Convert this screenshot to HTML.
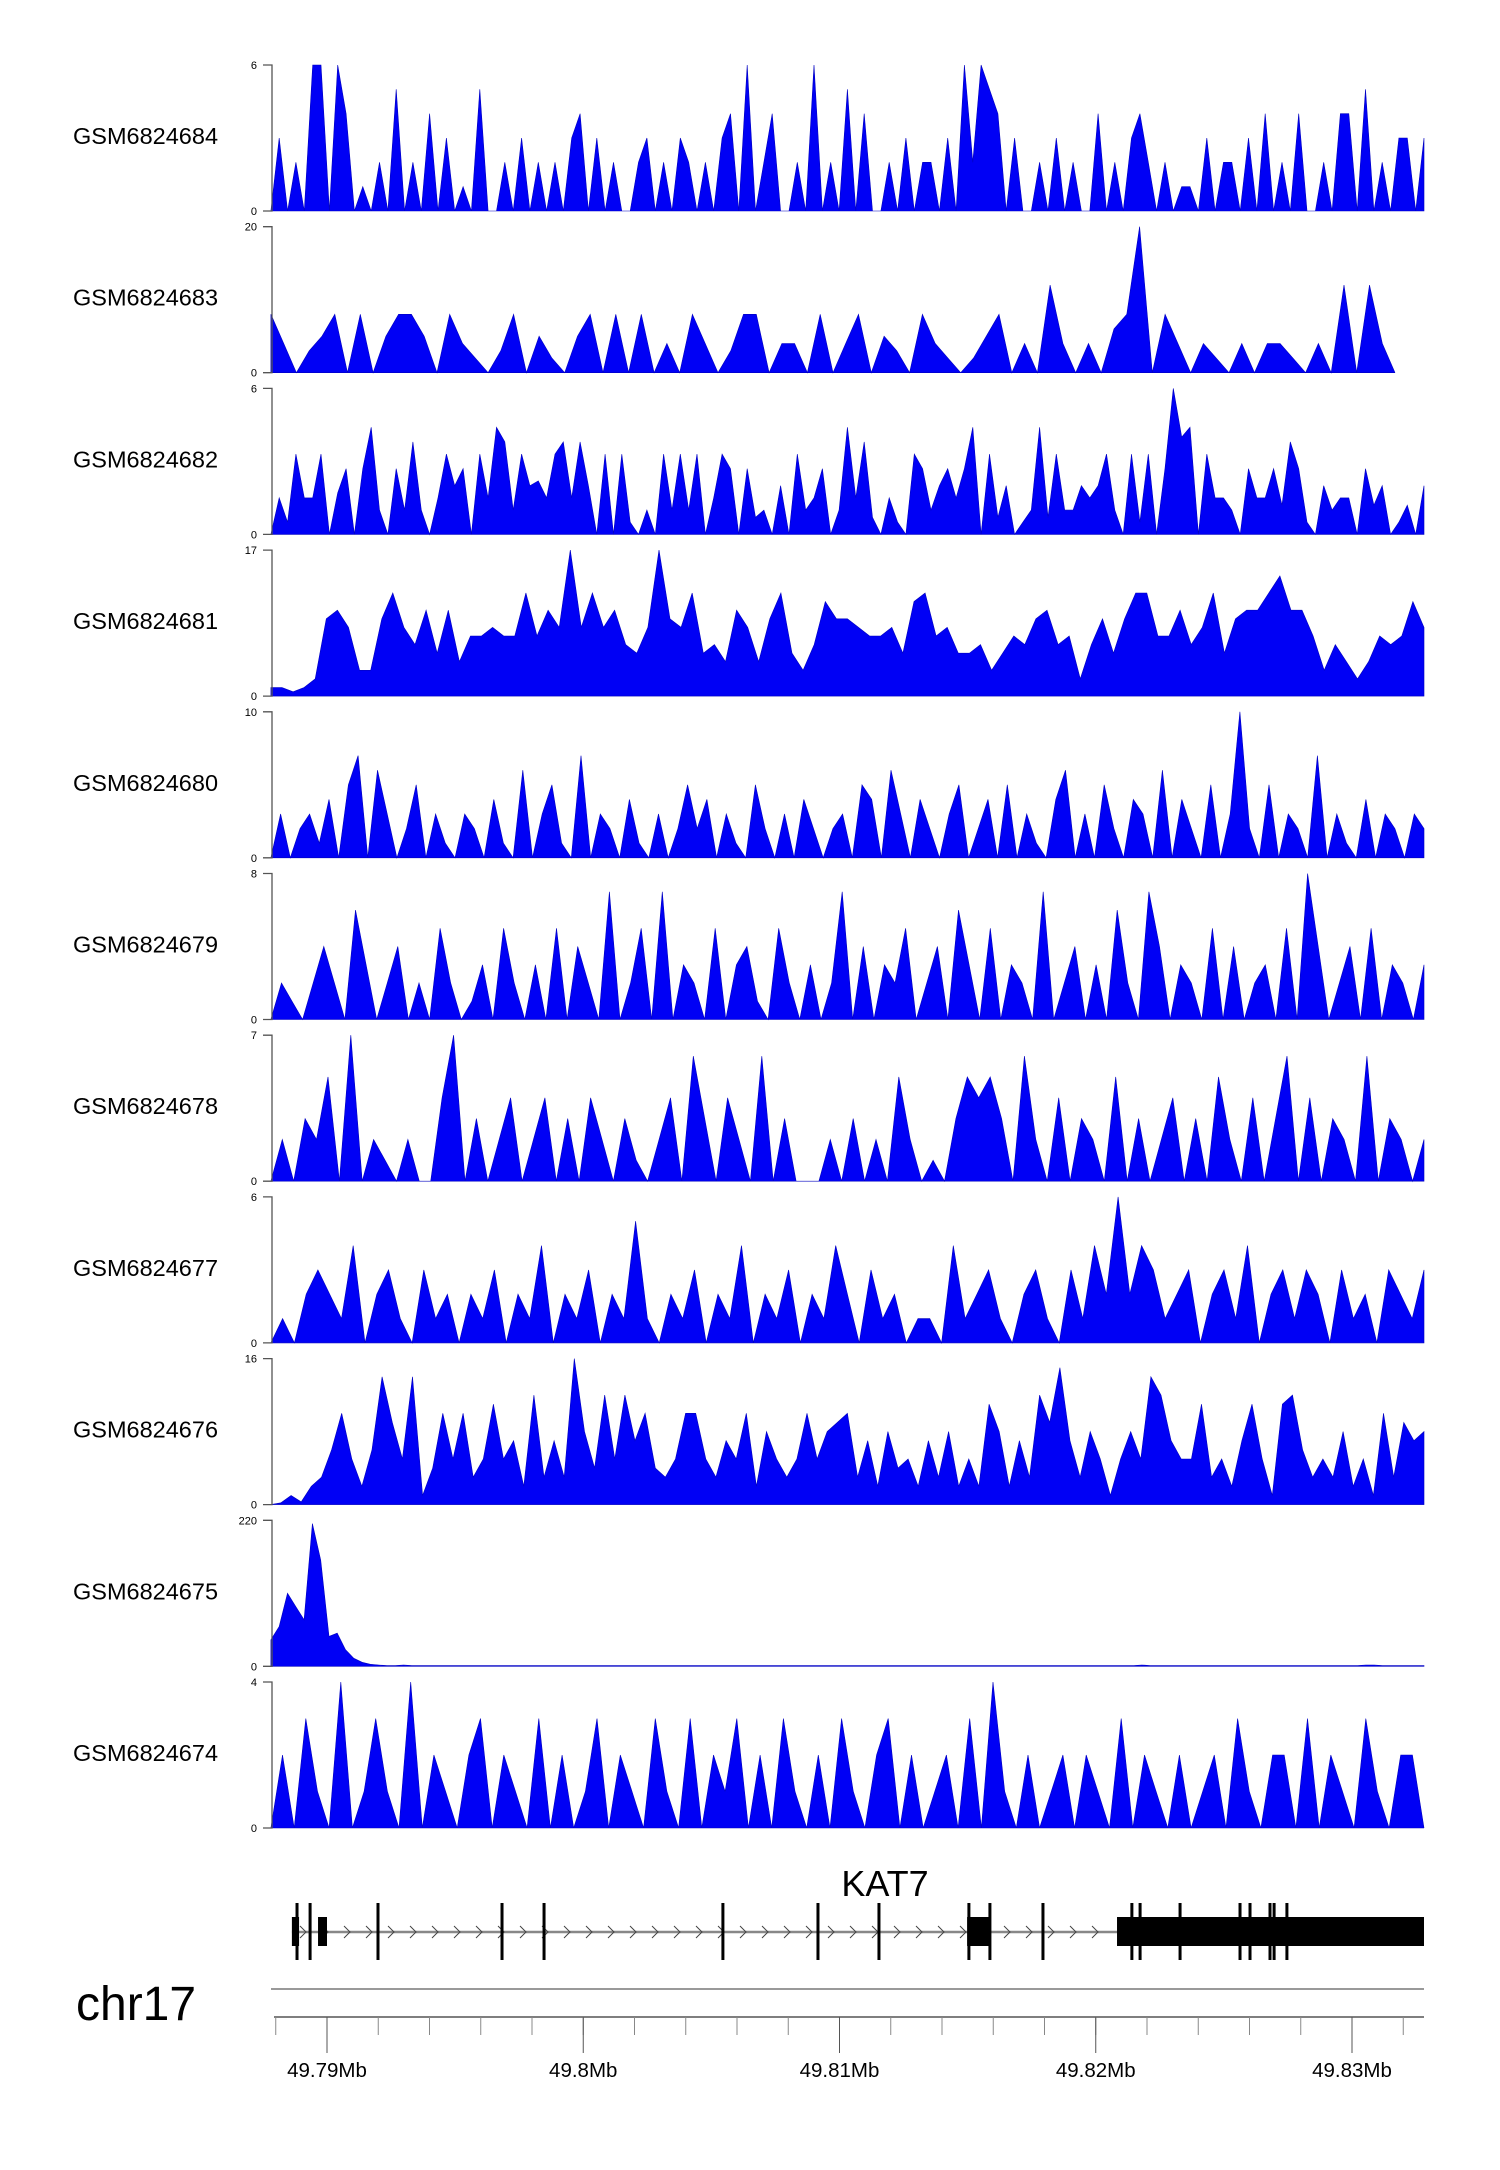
<!DOCTYPE html>
<html><head><meta charset="utf-8"><style>
html,body{margin:0;padding:0;background:#fff;}
svg{display:block;font-family:"Liberation Sans",sans-serif;}
</style></head><body>
<svg id="chart" width="1500" height="2170" viewBox="0 0 1500 2170" xmlns="http://www.w3.org/2000/svg"></svg>
<script>
const sampleNames = ["GSM6824684","GSM6824683","GSM6824682","GSM6824681","GSM6824680","GSM6824679","GSM6824678","GSM6824677","GSM6824676","GSM6824675","GSM6824674"];
const yMax = [6,20,6,17,10,8,7,6,16,220,4];
const trackEndMb = [49.83281,49.83168,49.83281,49.83281,49.83281,49.83281,49.83281,49.83281,49.83281,49.83281,49.83281];
const t1 = [0,3,0,2,0,6,6,0,6,4,0,1,0,2,0,5,0,2,0,4,0,3,0,1,0,5,0,0,2,0,3,0,2,0,2,0,3,4,0,3,0,2,0,0,2,3,0,2,0,3,2,0,2,0,3,4,0,6,0,2,4,0,0,2,0,6,0,2,0,5,0,4,0,0,2,0,3,0,2,2,0,3,0,6,2,6,5,4,0,3,0,0,2,0,3,0,2,0,0,4,0,2,0,3,4,2,0,2,0,1,1,0,3,0,2,2,0,3,0,4,0,2,0,4,0,0,2,0,4,4,0,5,0,2,0,3,3,0,3];
const t2 = [8,4,0,3,5,8,0,8,0,5,8,8,5,0,8,4,2,0,3,8,0,5,2,0,5,8,0,8,0,8,0,4,0,8,4,0,3,8,8,0,4,4,0,8,0,4,8,0,5,3,0,8,4,2,0,2,5,8,0,4,0,12,4,0,4,0,6,8,20,0,8,4,0,4,2,0,4,0,4,4,2,0,4,0,12,0,12,4,0];
const t3 = [0,1.5,0.5,3.3,1.5,1.5,3.3,0,1.7,2.7,0,2.7,4.4,1,0,2.7,1,3.8,1,0,1.5,3.3,2,2.7,0,3.3,1.5,4.4,3.8,1,3.3,2,2.2,1.5,3.3,3.8,1.5,3.8,2,0,3.3,0,3.3,0.5,0,1,0,3.3,1,3.3,1,3.3,0,1.5,3.3,2.7,0,2.7,0.7,1,0,2,0,3.3,1,1.5,2.7,0,1,4.4,1.5,3.8,0.7,0,1.5,0.5,0,3.3,2.7,1,2,2.7,1.5,2.7,4.4,0,3.3,0.7,2,0,0.5,1,4.4,0.7,3.3,1,1,2,1.5,2,3.3,1,0,3.3,0.5,3.3,0,2.7,6,4,4.4,0,3.3,1.5,1.5,1,0,2.7,1.5,1.5,2.7,1.2,3.8,2.7,0.5,0,2,1,1.5,1.5,0,2.7,1.2,2,0,0.5,1.2,0,2];
const t4 = [1,1,0.5,1,2,9,10,8,3,3,9,12,8,6,10,5,10,4,7,7,8,7,7,12,7,10,8,17,8,12,8,10,6,5,8,17,9,8,12,5,6,4,10,8,4,9,12,5,3,6,11,9,9,8,7,7,8,5,11,12,7,8,5,5,6,3,5,7,6,9,10,6,7,2,6,9,5,9,12,12,7,7,10,6,8,12,5,9,10,10,12,14,10,10,7,3,6,4,2,4,7,6,7,11,8];
const t5 = [0,3,0,2,3,1,4,0,5,7,0,6,3,0,2,5,0,3,1,0,3,2,0,4,1,0,6,0,3,5,1,0,7,0,3,2,0,4,1,0,3,0,2,5,2,4,0,3,1,0,5,2,0,3,0,4,2,0,2,3,0,5,4,0,6,3,0,4,2,0,3,5,0,2,4,0,5,0,3,1,0,4,6,0,3,0,5,2,0,4,3,0,6,0,4,2,0,5,0,3,10,2,0,5,0,3,2,0,7,0,3,1,0,4,0,3,2,0,3,2];
const t6 = [0,2,1,0,2,4,2,0,6,3,0,2,4,0,2,0,5,2,0,1,3,0,5,2,0,3,0,5,0,4,2,0,7,0,2,5,0,7,0,3,2,0,5,0,3,4,1,0,5,2,0,3,0,2,7,0,4,0,3,2,5,0,2,4,0,6,3,0,5,0,3,2,0,7,0,2,4,0,3,0,6,2,0,7,4,0,3,2,0,5,0,4,0,2,3,0,5,0,8,4,0,2,4,0,5,0,3,2,0,3];
const t7 = [0,2,0,3,2,5,0,7,0,2,1,0,2,0,0,4,7,0,3,0,2,4,0,2,4,0,3,0,4,2,0,3,1,0,2,4,0,6,3,0,4,2,0,6,0,3,0,0,0,2,0,3,0,2,0,5,2,0,1,0,3,5,4,5,3,0,6,2,0,4,0,3,2,0,5,0,3,0,2,4,0,3,0,5,2,0,4,0,3,6,0,4,0,3,2,0,6,0,3,2,0,2];
const t8 = [0,1,0,2,3,2,1,4,0,2,3,1,0,3,1,2,0,2,1,3,0,2,1,4,0,2,1,3,0,2,1,5,1,0,2,1,3,0,2,1,4,0,2,1,3,0,2,1,4,2,0,3,1,2,0,1,1,0,4,1,2,3,1,0,2,3,1,0,3,1,4,2,6,2,4,3,1,2,3,0,2,3,1,4,0,2,3,1,3,2,0,3,1,2,0,3,2,1,3];
const t9 = [0,0.2,1,0.3,2,3,6,10,5,2,6,14,9,5,14,1,4,10,5,10,3,5,11,5,7,2,12,3,7,3,16,8,4,12,5,12,7,10,4,3,5,10,10,5,3,7,5,10,2,8,5,3,5,10,5,8,9,10,3,7,2,8,4,5,2,7,3,8,2,5,2,11,8,2,7,3,12,9,15,7,3,8,5,1,5,8,5,14,12,7,5,5,11,3,5,2,7,11,5,1,11,12,6,3,5,3,8,2,5,1,10,3,9,7,8];
const t10 = [40,60,110,90,70,215,160,45,50,25,12,6,3,2,1,1,2,1,1,1,1,1,1,1,1,1,1,1,1,1,1,1,1,1,1,1,1,1,1,1,1,1,1,1,1,1,1,1,1,1,1,1,1,1,1,1,1,1,1,1,1,1,1,1,1,1,1,1,1,1,1,1,1,1,1,1,1,1,1,1,1,1,1,1,1,1,1,1,1,1,1,1,1,1,1,1,1,1,1,1,1,1,1,1,1,2,1,1,1,1,1,1,1,1,1,1,1,1,1,1,1,1,1,1,1,1,1,1,1,1,1,1,2,2,1,1,1,1,1,1];
const t11 = [0,2,0,3,1,0,4,0,1,3,1,0,4,0,2,1,0,2,3,0,2,1,0,3,0,2,0,1,3,0,2,1,0,3,1,0,3,0,2,1,3,0,2,0,3,1,0,2,0,3,1,0,2,3,0,2,0,1,2,0,3,0,4,1,0,2,0,1,2,0,2,1,0,3,0,2,1,0,2,0,1,2,0,3,1,0,2,2,0,3,0,2,1,0,3,1,0,2,2,0];
const tracks = [t1,t2,t3,t4,t5,t6,t7,t8,t9,t10,t11];
const axisTicksMb = [49.788,49.79,49.792,49.794,49.796,49.798,49.8,49.802,49.804,49.806,49.808,49.81,49.812,49.814,49.816,49.818,49.82,49.822,49.824,49.826,49.828,49.83,49.832];
const axisLabels = ["49.79Mb","49.8Mb","49.81Mb","49.82Mb","49.83Mb"];
const axisLabelMb = [49.79,49.80,49.81,49.82,49.83];
const exonLinesMb = [49.78883,49.78934,49.79199,49.79683,49.79847,49.80545,49.80916,49.81154,49.81505,49.81587,49.81794,49.82141,49.82173,49.82329,49.82563,49.82602,49.8268,49.82696,49.82746];
const smallBoxStart = [49.78863,49.78965,49.81498];
const smallBoxEnd = [49.78891,49.79,49.81587];
const utrStart = 49.82083, utrEnd = 49.83281, dataStart = 49.78781;

const NS="http://www.w3.org/2000/svg";
const svg=document.getElementById('chart');
function mk(tag,attrs,parent){const e=document.createElementNS(NS,tag);for(const k in attrs)e.setAttribute(k,attrs[k]);(parent||svg).appendChild(e);return e;}
function xMb(mb){return 327+(mb-49.79)*25625;}
const spacing=161.7, topY0=65, trackH=146;

tracks.forEach((vals,i)=>{
  const g=mk('g',{});
  
  
  const top=topY0+spacing*i, zero=top+trackH;
  const yS=v=>zero-v/yMax[i]*trackH;
  const x0=xMb(dataStart), x1=xMb(trackEndMb[i]);
  let d='M'+x0+','+zero;
  vals.forEach((v,j)=>{const x=x0+(x1-x0)*j/(vals.length-1);d+=' L'+x.toFixed(1)+','+yS(v).toFixed(1);});
  d+=' L'+x1+','+zero+' Z';
  const area=mk('path',{d:d,fill:'#0000f5',stroke:'#0000c0','stroke-width':0.6},g);
  
  
  const ax=mk('path',{d:'M263,'+top+' H272 V'+zero+' H263',fill:'none',stroke:'#555','stroke-width':1.3},g);
  
  
  const tt=mk('text',{x:257,y:top+4,'font-size':11,'text-anchor':'end'},g);tt.textContent=yMax[i];
  
  
  const tb=mk('text',{x:257,y:zero+4,'font-size':11,'text-anchor':'end'},g);tb.textContent='0';
  
  
  const lb=mk('text',{x:73,y:(top+zero)/2+6,'font-size':23.5},g);lb.textContent=sampleNames[i];
  
  
});

const gg=mk('g',{});


const gy=1932;
mk('line',{x1:xMb(smallBoxStart[0]),x2:xMb(utrEnd),y1:gy,y2:gy,stroke:'#888','stroke-width':2.5},gg);
for(let x=300;x<1112;x+=22){mk('path',{d:`M${x},${gy-6} L${x+6},${gy} L${x},${gy+6}`,fill:'none',stroke:'#444','stroke-width':1},gg);}
smallBoxStart.forEach((s,k)=>{mk('rect',{x:xMb(s),y:1917,width:xMb(smallBoxEnd[k])-xMb(s),height:29,fill:'#000'},gg);});
mk('rect',{x:xMb(utrStart),y:1917,width:xMb(utrEnd)-xMb(utrStart),height:29,fill:'#000'},gg);
exonLinesMb.forEach(m=>{mk('rect',{x:xMb(m)-1.5,y:1903,width:3,height:57,fill:'#000'},gg);});
const kt=mk('text',{x:885,y:1896,'font-size':36,'text-anchor':'middle'},gg);kt.textContent='KAT7';



const ag=mk('g',{});


const chr=mk('text',{x:76,y:2020,'font-size':48},ag);chr.textContent='chr17';


mk('line',{x1:271,x2:1424,y1:1989,y2:1989,stroke:'#999','stroke-width':2},ag);
mk('line',{x1:274,x2:1424,y1:2017,y2:2017,stroke:'#555','stroke-width':1.5},ag);
axisTicksMb.forEach(m=>{mk('line',{x1:xMb(m),x2:xMb(m),y1:2017,y2:2035,stroke:'#888','stroke-width':1},ag);});
axisLabelMb.forEach((m,k)=>{
  mk('line',{x1:xMb(m),x2:xMb(m),y1:2017,y2:2053,stroke:'#555','stroke-width':1},ag);
  const t=mk('text',{x:xMb(m),y:2077,'font-size':20.5,'text-anchor':'middle'},ag);t.textContent=axisLabels[k];
  
  
});
</script>
</body></html>
